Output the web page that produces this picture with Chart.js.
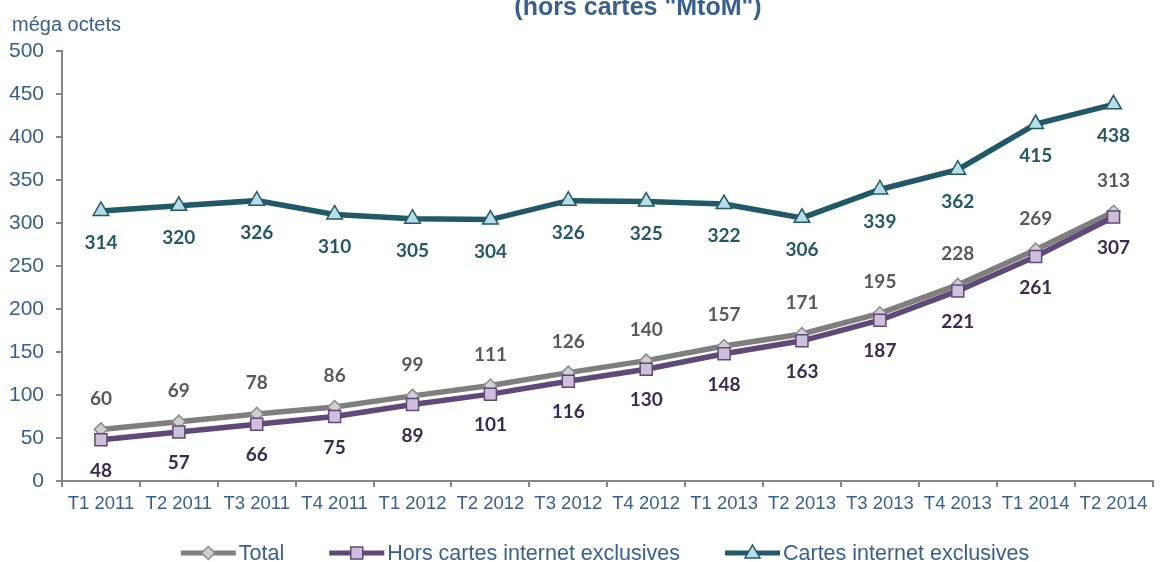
<!DOCTYPE html>
<html>
<head>
<meta charset="utf-8">
<script src="https://cdn.jsdelivr.net/npm/chart.js@4.4.1/dist/chart.umd.min.js"></script>
<style>
  html, body { margin: 0; padding: 0; background: #fff; }
  #wrap { width: 1163px; height: 562px; position: relative; }
</style>
</head>
<body>
<div id="wrap"><canvas id="chart"></canvas></div>
<script>
const categories = ['T1 2011', 'T2 2011', 'T3 2011', 'T4 2011', 'T1 2012', 'T2 2012', 'T3 2012',
                    'T4 2012', 'T1 2013', 'T2 2013', 'T3 2013', 'T4 2013', 'T1 2014', 'T2 2014'];
const totalValues  = [60, 69, 78, 86, 99, 111, 126, 140, 157, 171, 195, 228, 269, 313];
const horsValues   = [48, 57, 66, 75, 89, 101, 116, 130, 148, 163, 187, 221, 261, 307];
const cartesValues = [314, 320, 326, 310, 305, 304, 326, 325, 322, 306, 339, 362, 415, 438];
const yTicks = [0, 50, 100, 150, 200, 250, 300, 350, 400, 450, 500];

const blue = '#376092';
const axisGray = '#868686';

// draws one point marker, used for the legend
function drawMarker(g, shape, x, y, fill, border) {
  g.fillStyle = fill; g.strokeStyle = border; g.lineWidth = 1.5;
  g.beginPath();
  if (shape === 'rectRot') {
    g.moveTo(x, y - 6.5); g.lineTo(x + 6.5, y); g.lineTo(x, y + 6.5); g.lineTo(x - 6.5, y);
  } else if (shape === 'rect') {
    g.rect(x - 6, y - 6, 12, 12);
  } else {
    g.moveTo(x, y - 8); g.lineTo(x + 7.5, y + 5); g.lineTo(x - 7.5, y + 5);
  }
  g.closePath(); g.fill(); g.stroke();
}

// numbers next to each point
const valueLabels = {
  id: 'valueLabels',
  afterDatasetsDraw(chart) {
    const ctx = chart.ctx;
    chart.data.datasets.forEach((ds, i) => {
      const meta = chart.getDatasetMeta(i);
      ctx.save();
      ctx.font = 'bold 19px Lato';
      ctx.fillStyle = ds.labelColor;
      ctx.textAlign = 'center';
      ctx.textBaseline = 'middle';
      meta.data.forEach((pt, j) => {
        ctx.fillText(ds.data[j], pt.x, pt.y + ds.labelOffset);
      });
      ctx.restore();
    });
  }
};

// cut-off title, unit label and the line+marker legend at the bottom
const headerAndLegend = {
  id: 'headerAndLegend',
  afterDraw(chart) {
    const ctx = chart.ctx;
    ctx.save();
    ctx.fillStyle = blue;
    ctx.font = 'bold 25px "Liberation Sans"';
    ctx.textAlign = 'center';
    ctx.textBaseline = 'alphabetic';
    ctx.fillText('(hors cartes "MtoM")', 638, 15);
    ctx.font = '20px "Liberation Sans"';
    ctx.textAlign = 'left';
    ctx.textBaseline = 'middle';
    ctx.fillText('méga octets', 12, 25);

    // legend
    const lineLen = 55, textGap = 3, itemGap = 45, legendY = 553;
    ctx.font = '21.5px "Liberation Sans"';
    const items = chart.data.datasets.map(ds => ({ ds, w: ctx.measureText(ds.label).width }));
    const total = items.reduce((s, it) => s + lineLen + textGap + it.w, 0) + itemGap * (items.length - 1);
    let x = 605 - total / 2;
    items.forEach(({ ds, w }) => {
      ctx.strokeStyle = ds.borderColor; ctx.lineWidth = 5;
      ctx.beginPath(); ctx.moveTo(x, legendY); ctx.lineTo(x + lineLen, legendY); ctx.stroke();
      drawMarker(ctx, ds.pointStyle, x + lineLen / 2, legendY, ds.pointBackgroundColor, ds.pointBorderColor);
      ctx.fillStyle = blue;
      ctx.fillText(ds.label, x + lineLen + textGap, legendY + 1);
      x += lineLen + textGap + w + itemGap;
    });
    ctx.restore();
  }
};

new Chart(document.getElementById('chart'), {
  type: 'line',
  data: {
    labels: categories,
    datasets: [
      {
        label: 'Total', data: totalValues, order: 2,
        borderColor: '#7f7f7f', borderWidth: 5.5,
        pointStyle: 'rectRot', pointRadius: 6.5, pointBorderWidth: 1.5,
        pointBackgroundColor: '#d0d0d0', pointBorderColor: '#8c8c8c',
        labelColor: '#595959', labelOffset: -31
      },
      {
        label: 'Hors cartes internet exclusives', data: horsValues, order: 1,
        borderColor: '#5f497a', borderWidth: 5.5,
        pointStyle: 'rect', pointRadius: 8.5, pointBorderWidth: 1.5,
        pointBackgroundColor: '#ccc0da', pointBorderColor: '#5f497a',
        labelColor: '#3d2a52', labelOffset: 31
      },
      {
        label: 'Cartes internet exclusives', data: cartesValues, order: 3,
        borderColor: '#215968', borderWidth: 5.5,
        pointStyle: 'triangle', pointRadius: 9, pointBorderWidth: 1.5,
        pointBackgroundColor: '#b7dee8', pointBorderColor: '#215968',
        labelColor: '#215968', labelOffset: 32
      }
    ]
  },
  options: {
    responsive: true,
    maintainAspectRatio: false,
    animation: false,
    layout: { padding: { left: 0, right: 5, top: 51, bottom: 41 } },
    scales: {
      x: {
        offset: true,
        border: { color: axisGray, width: 2 },
        grid: { offset: true, drawOnChartArea: false, color: axisGray, lineWidth: 2, tickLength: 6 },
        ticks: { color: blue, font: { family: '"Liberation Sans"', size: 18.5 }, padding: 6, maxRotation: 0, autoSkip: false },
        afterFit(scale) { scale.height = 40; }
      },
      y: {
        min: yTicks[0], max: yTicks[yTicks.length - 1],
        border: { color: axisGray, width: 2 },
        grid: { drawOnChartArea: false, color: axisGray, lineWidth: 2, tickLength: 6 },
        ticks: { stepSize: yTicks[1] - yTicks[0], color: blue, font: { family: '"Liberation Sans"', size: 21 }, padding: 12 },
        afterFit(scale) { scale.width = 62; }
      }
    },
    plugins: {
      title: { display: false },
      tooltip: { enabled: false },
      legend: { display: false }
    }
  },
  plugins: [valueLabels, headerAndLegend]
});
</script>
</body>
</html>
